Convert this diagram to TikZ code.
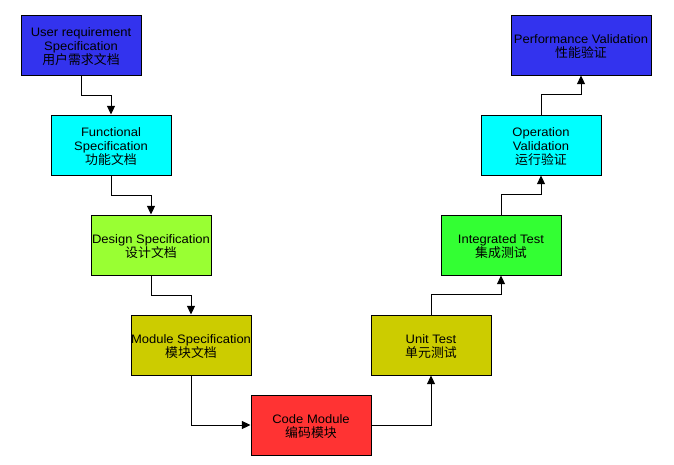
\documentclass[tikz,border=0pt]{standalone}
\usepackage{fontspec}
\setmainfont{Liberation Sans}[FakeStretch=1.06]
\newfontfamily\cjk{Noto Sans CJK SC}[Scale=1.05]
\usetikzlibrary{arrows.meta}
\definecolor{cblue}{HTML}{3333EE}
\definecolor{ccyan}{HTML}{00FFFF}
\definecolor{clime}{HTML}{99FF33}
\definecolor{colive}{HTML}{CCCC00}
\definecolor{cred}{HTML}{FF3333}
\definecolor{cgreen}{HTML}{33FF33}
\newcommand{\topstrut}{\rule{0pt}{9.5pt}}
\begin{document}
\begin{tikzpicture}[x=0.75pt,y=-0.75pt,
  box/.style={draw=black,line width=0.75pt,minimum width=90pt,minimum height=45pt,
    inner sep=0pt,align=center,font=\fontsize{9.2}{10.5}\selectfont},
  wbox/.style={box,minimum width=105pt},
  arr/.style={draw=black,line width=0.75pt,-{Triangle[width=6pt,length=6.5pt]}}]
\useasboundingbox (0,0) rectangle (674,464);
\fill[white] (0,0) rectangle (674,464);
\node[box,fill=cblue] (b1) at (81,45) {\topstrut User requirement\\Specification\\{\cjk 用户需求文档}};
\node[box,fill=ccyan] (b2) at (111,145) {\topstrut Functional\\Specification\\{\cjk 功能文档}};
\node[box,fill=clime] (b3) at (151,245) {\topstrut Design Specification\\{\cjk 设计文档}};
\node[box,fill=colive] (b4) at (191,345) {\topstrut Module Specification\\{\cjk 模块文档}};
\node[box,fill=cred] (b5) at (311,425) {\topstrut Code Module\\{\cjk 编码模块}};
\node[box,fill=colive] (b6) at (431,345) {\topstrut Unit Test\\{\cjk 单元测试}};
\node[box,fill=cgreen] (b7) at (501,245) {\topstrut Integrated Test\\{\cjk 集成测试}};
\node[box,fill=ccyan] (b8) at (541,145) {\topstrut Operation\\Validation\\{\cjk 运行验证}};
\node[wbox,fill=cblue] (b9) at (581,45) {\topstrut Performance Validation\\{\cjk 性能验证}};
\draw[arr] (b1.south) -- ++(0,20) -| (b2.north);
\draw[arr] (b2.south) -- ++(0,20) -| (b3.north);
\draw[arr] (b3.south) -- ++(0,20) -| (b4.north);
\draw[arr] (b4.south) |- (b5.west);
\draw[arr] (b5.east) -| (b6.south);
\draw[arr] (b6.north) -- ++(0,-20) -| (b7.south);
\draw[arr] (b7.north) -- ++(0,-20) -| (b8.south);
\draw[arr] (b8.north) -- ++(0,-20) -| (b9.south);
\end{tikzpicture}
\end{document}
